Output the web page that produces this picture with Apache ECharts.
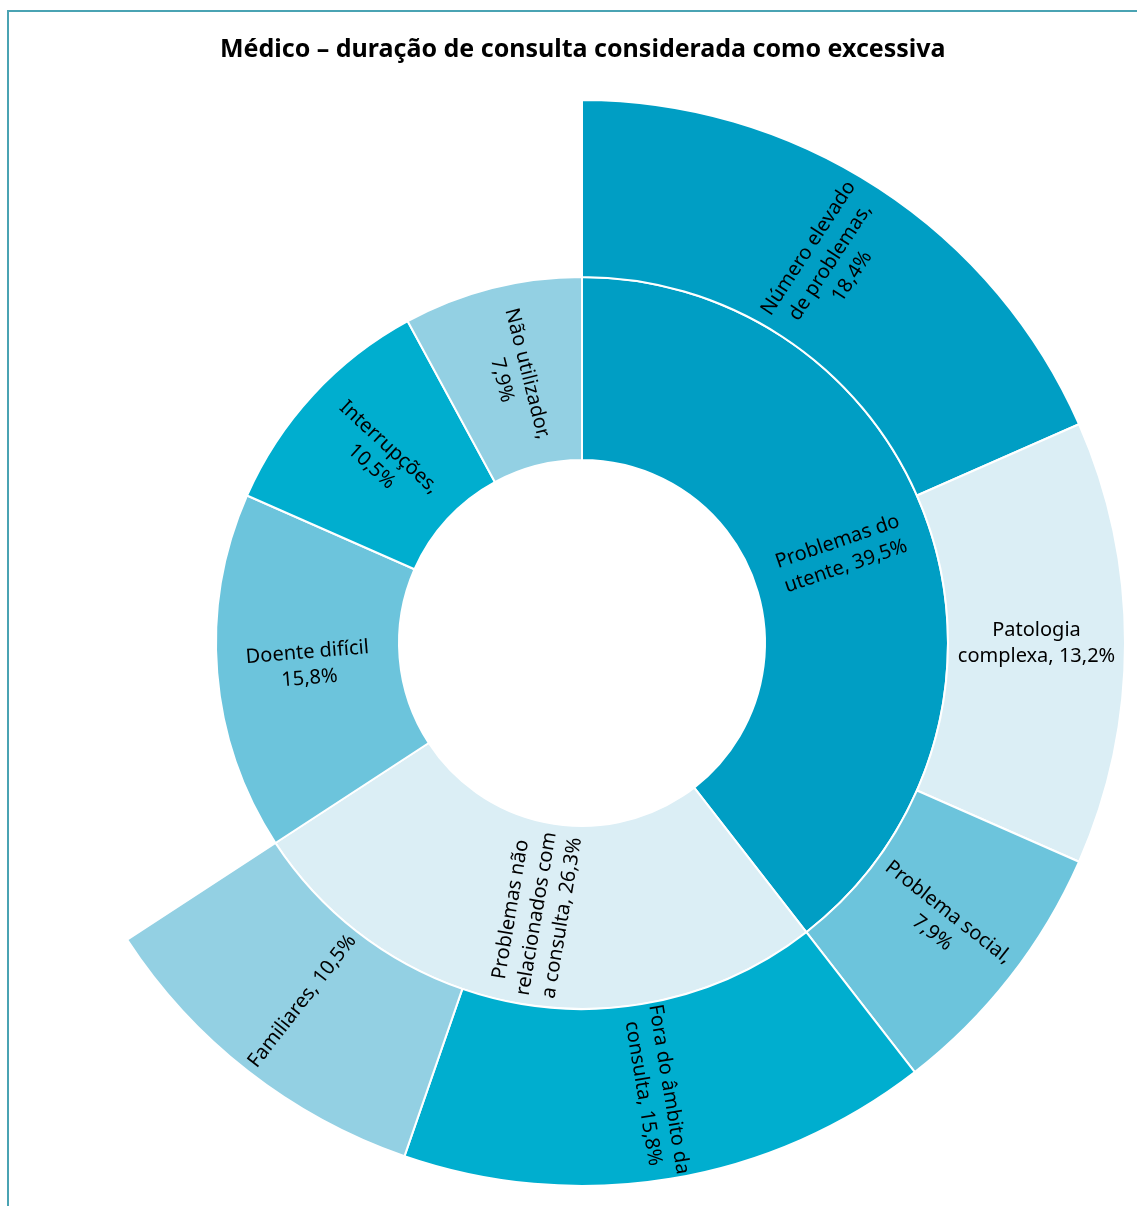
<!DOCTYPE html>
<html>
<head>
<meta charset="utf-8">
<script src="https://cdn.jsdelivr.net/npm/echarts@6/dist/echarts.min.js"></script>
<style>
html,body{margin:0;padding:0;background:#fff;}
#chart{width:1137px;height:1206px;}
</style>
</head>
<body>
<div id="chart"></div>
<script>
const titleText = 'Médico – duração de consulta considerada como excessiva';

const innerNames = ['Problemas do utente', 'Problemas não relacionados com a consulta', 'Doente difícil', 'Interrupções', 'Não utilizador'];
const innerLabels = ['Problemas do\nutente, 39,5%', 'Problemas não\nrelacionados com\na consulta, 26,3%', 'Doente difícil\n15,8%', 'Interrupções,\n10,5%', 'Não utilizador,\n7,9%'];
const innerValues = [39.5, 26.3, 15.8, 10.5, 7.9];
const innerColors = ['#009EC4', '#DBEEF5', '#6CC4DC', '#00AECF', '#93D0E3'];

const outerNames = ['Número elevado de problemas', 'Patologia complexa', 'Problema social', 'Fora do âmbito da consulta', 'Familiares'];
const outerLabels = ['Número elevado\nde problemas,\n18,4%', 'Patologia\ncomplexa, 13,2%', 'Problema social,\n7,9%', 'Fora do âmbito da\nconsulta, 15,8%', 'Familiares, 10,5%'];
const outerValues = [18.4, 13.2, 7.9, 15.8, 10.5];
const outerParent = [0, 0, 0, 1, 1];
const outerColors = ['#009EC4', '#DBEEF5', '#6CC4DC', '#00AECF', '#93D0E3'];

const data = innerNames.map((n, i) => {
  const node = {
    name: n,
    value: innerValues[i],
    itemStyle: { color: innerColors[i] },
    label: { formatter: innerLabels[i] }
  };
  const kids = [];
  outerNames.forEach((on, j) => {
    if (outerParent[j] === i) {
      kids.push({
        name: on,
        value: outerValues[j],
        itemStyle: { color: outerColors[j] },
        label: { formatter: outerLabels[j] }
      });
    }
  });
  if (kids.length) node.children = kids;
  return node;
});

const chart = echarts.init(document.getElementById('chart'), null, { renderer: 'canvas' });
chart.setOption({
  animation: false,
  title: {
    text: titleText,
    left: 215,
    top: 32,
    textStyle: { fontFamily: 'Noto Sans', fontSize: 25, fontWeight: 'bold', color: '#000' }
  },
  graphic: [
    { type: 'polyline', shape: { points: [[8, 1206], [8, 11], [1137, 11]] }, style: { stroke: '#4AA3B3', lineWidth: 2, fill: null } }
  ],
  series: [{
    type: 'sunburst',
    center: [582, 643],
    radius: [183, 543],
    sort: null,
    nodeClick: false,
    startAngle: 90,
    clockwise: true,
    data: data,
    itemStyle: { borderColor: '#fff', borderWidth: 2 },
    label: {
      rotate: 'radial',
      fontFamily: 'Noto Sans',
      fontSize: 20,
      lineHeight: 26,
      color: '#000',
      align: 'center'
    },
    emphasis: { focus: 'none' },
    levels: [
      {},
      { r0: 183, r: 366 },
      { r0: 366, r: 543 }
    ]
  }]
});
</script>
</body>
</html>
